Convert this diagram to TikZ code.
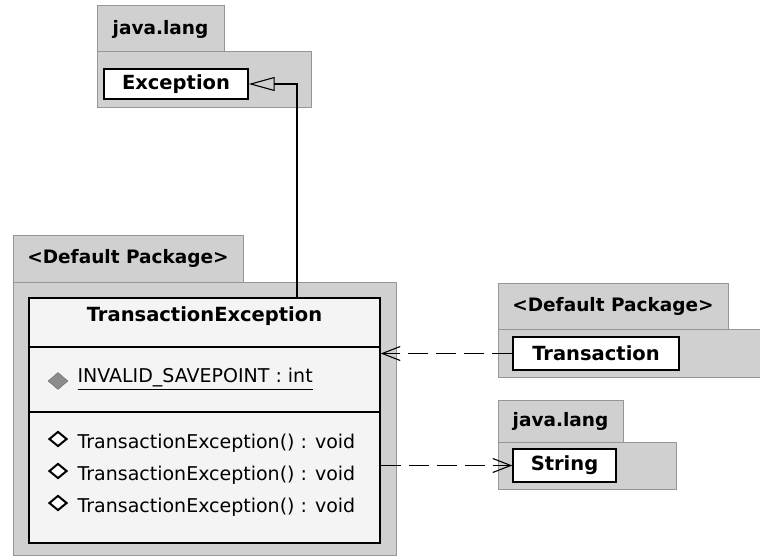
\documentclass[tikz,border=0pt]{standalone}
\usepackage{fontspec}
\setmainfont{DejaVu Sans}
\usetikzlibrary{
	arrows.meta,
	positioning,
	shapes.geometric
}
\definecolor{pkggray}{RGB}{208,208,208}
\definecolor{pkgline}{RGB}{150,150,150}
\definecolor{clsfill}{RGB}{244,244,244}
\tikzset{
	pkgtab/.style={draw=pkgline, fill=pkggray, rectangle, inner sep=0pt, line width=1pt, font=\fontsize{18.5}{21}\selectfont\bfseries},
	pkgbody/.style={draw=pkgline, fill=pkggray, rectangle, inner sep=0pt, line width=1pt},
	clsbox/.style={draw, fill=clsfill, rectangle, inner sep=0pt, line width=1.4pt, font=\fontsize{19.5}{22}\selectfont\bfseries},
	opdiam/.style={draw, diamond, fill=white, line width=2pt, minimum width=18pt, minimum height=15pt, inner sep=0pt},
	dep/.style={dash pattern=on 20pt off 8pt, line width=1.1pt, -{Straight Barb[length=18pt, width=14pt]}}
}
\begin{document}
\begin{tikzpicture}[x=1pt, y=-1pt]
		\useasboundingbox (0,0) rectangle (760,556);
		
		% java.lang (top)
		\node[pkgtab, minimum width=127pt, minimum height=46pt] (tabA) at (160.5,29) {java.lang};
		\node[pkgbody, minimum width=214pt, minimum height=56pt] (pkgA) at (204,80) {};
		\node[clsbox, fill=white, minimum width=144pt, minimum height=30pt] (exc) at (176,84) {Exception};
		
		% <Default Package> with the class
		\node[pkgtab, minimum width=230pt, minimum height=47pt] (tabB) at (128,258.5) {<Default Package>};
		\node[pkgbody, minimum width=383pt, minimum height=273pt] (pkgB) at (204.5,418.5) {};
		\node[clsbox, minimum width=351pt, minimum height=245pt] (cls) at (204.5,420.5) {};
		\node[font=\fontsize{19.5}{22}\selectfont\bfseries] (clsname) at (204.5,316) {TransactionException};
		\draw[line width=1.4pt] (cls.west |- 0,347) -- (cls.east |- 0,347);
		\draw[line width=1.4pt] (cls.west |- 0,412) -- (cls.east |- 0,412);
		
		\node[diamond, draw=black!60, fill=black!45, minimum width=20pt, minimum height=17pt, inner sep=0pt] (attic) at (58,381) {};
		\node[anchor=west, font=\fontsize{19}{22}\selectfont] (attr) at (74,379) {\underline{INVALID\_SAVEPOINT : int}};
		
		\foreach \i/\y in {1/443,2/475,3/507}{
			\node[opdiam] (op\i ic) at (58,\y-4) {};
			\node[anchor=west, font=\fontsize{19}{22}\selectfont] (op\i) at (74,\y) {TransactionException() : void};
		}
		
		% <Default Package> with Transaction
		\node[pkgtab, minimum width=230pt, minimum height=46pt] (tabC) at (613,306) {<Default Package>};
		\node[pkgbody, minimum width=262pt, minimum height=48pt] (pkgC) at (629,353) {};
		\node[clsbox, fill=white, minimum width=166pt, minimum height=33pt] (trans) at (596,353.5) {Transaction};
		
		% java.lang (String)
		\node[pkgtab, minimum width=125pt, minimum height=42pt] (tabD) at (560.5,421) {java.lang};
		\node[pkgbody, minimum width=178pt, minimum height=47pt] (pkgD) at (587,465.5) {};
		\node[clsbox, fill=white, minimum width=103pt, minimum height=33pt] (str) at (564.5,465.5) {String};
		
		% Arrows
		\draw[line width=1.1pt, -{Triangle[open, length=26pt, width=14pt]}] (cls.north -| 297,0) |- (exc.east);
		\draw[dep] (trans.west) -- (trans.west -| cls.east);
		\draw[dep] (str.west -| cls.east) -- (str.west);
		
	\end{tikzpicture}
\end{document}
